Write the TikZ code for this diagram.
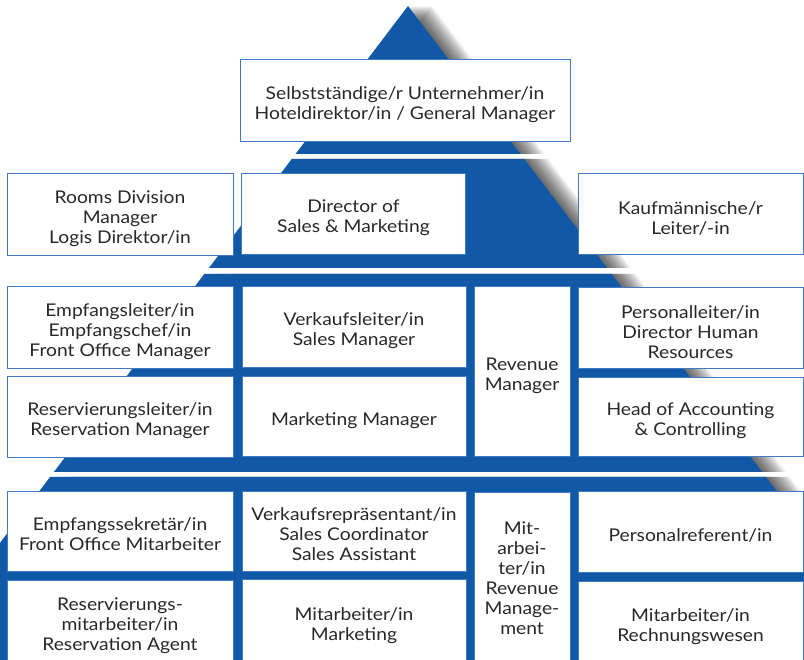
\documentclass[tikz,border=0pt]{standalone}
\usepackage{fontspec}
\setmainfont{Lato}[FakeStretch=1.1]
\definecolor{pyrblue}{RGB}{17,89,166}
\definecolor{boxline}{RGB}{64,122,196}
\definecolor{txt}{RGB}{40,40,40}
\newcommand\bandpath[2]{({408-0.76*(#1-6)},#1) -- ({408+0.76*(#1-6)},#1) -- ({408+0.76*(#2-6)},#2) -- ({408-0.76*(#2-6)},#2) -- cycle}
\newcommand\band[2]{%
  \foreach \k in {1,...,14}{\fill[black,opacity=0.06,xshift=\k*1.7pt] \bandpath{#1}{#2};}
  \fill[pyrblue] \bandpath{#1}{#2};}
% box: [text shift], name, cx, cy, width, height, text
\newcommand\bx[7][-3.5]{%
  \node[box, minimum width=#5pt, minimum height=#6pt] (#2) at (#3,#4) {};
  \node[lbl] (#2-t) at ([yshift=#1pt]#2.center) {#7};}
\tikzset{
  box/.style={draw=boxline, line width=1pt, fill=white, inner sep=0pt},
  lbl/.style={text=txt, align=center, inner sep=0pt, font=\fontsize{17.5}{20}\selectfont},
}
\begin{document}
\begin{tikzpicture}[x=1pt,y=-1pt]
\useasboundingbox (0,0) rectangle (804,660);
\clip (0,0) rectangle (804,660);
% pyramid bands
\band{5.9}{154}
\band{159}{268}
\band{274}{472}
\band{477}{700}
% level 1
\bx{gm}{405}{101}{330}{82}{Selbstständige/r Unternehmer/in\\Hoteldirektor/in / General Manager}
% level 2
\bx{rooms}{120}{215}{226}{82}{Rooms Division\\Manager\\Logis Direktor/in}
\bx{dsm}{353.5}{214.5}{224}{81}{Director of\\Sales \& Marketing}
\bx{kauf}{690.5}{214.5}{225}{81}{Kaufmännische/r\\Leiter/-in}
% level 3
\bx{empf}{120}{328}{226}{82}{Empfangsleiter/in\\Empfangschef/in\\Front Office Manager}
\bx{verk}{354}{327.5}{224}{81}{Verkaufsleiter/in\\Sales Manager}
\bx{rev}{522}{372}{96}{170}{Revenue\\Manager}
\bx{pers}{690.5}{328.5}{225}{81}{Personalleiter/in\\Director Human\\Resources}
\bx{resl}{120}{417.5}{226}{81}{Reservierungsleiter/in\\Reservation Manager}
\bx{mkt}{354}{417}{224}{80}{Marketing Manager}
\bx{acc}{690.5}{417.5}{225}{79}{Head of Accounting\\\& Controlling}
% level 4
\bx{sekr}{120}{531}{226}{80}{Empfangssekretär/in\\Front Office Mitarbeiter}
\bx{vrep}{354}{531}{224}{80}{Verkaufsrepräsentant/in\\Sales Coordinator\\Sales Assistant}
\bx[0.5]{mrev}{522}{578.5}{96}{173}{Mit-\\arbei-\\ter/in\\Revenue\\Manage-\\ment}
\bx{pref}{690.5}{531.5}{225}{81}{Personalreferent/in}
\bx{resm}{120}{622.5}{226}{85}{Reservierungs-\\mitarbeiter/in\\Reservation Agent}
\bx{mmkt}{354}{622}{224}{86}{Mitarbeiter/in\\Marketing}
\bx{rech}{690.5}{623}{225}{84}{Mitarbeiter/in\\Rechnungswesen}
\end{tikzpicture}
\end{document}
